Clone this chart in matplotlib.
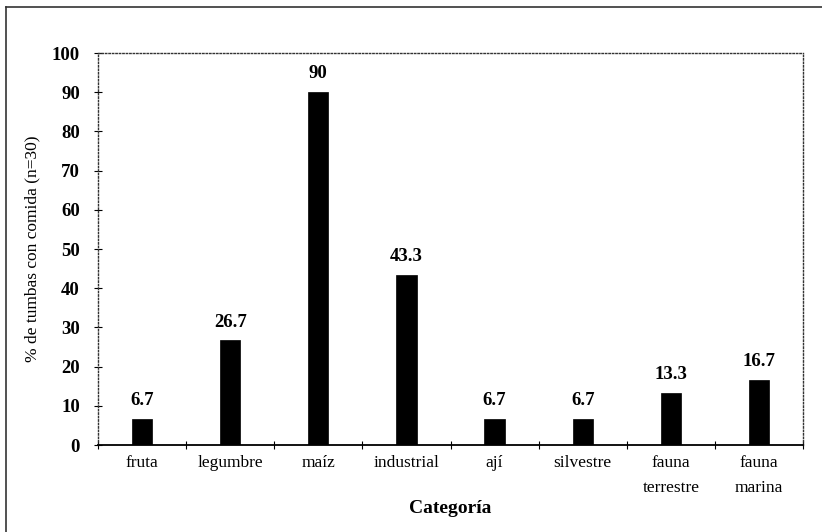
import numpy as np
import matplotlib
matplotlib.use('Agg')
import matplotlib.pyplot as plt
from matplotlib.lines import Line2D

#----------------------------------------------------------------
#                         data
#----------------------------------------------------------------
categorias = ['fruta', 'legumbre', 'maíz', 'industrial', 'ají',
              'silvestre', 'fauna\nterrestre', 'fauna\nmarina']
valores    = [6.7, 26.7, 90, 43.3, 6.7, 6.7, 13.3, 16.7]
etiquetas  = ['6.7', '26.7', '90', '43.3', '6.7', '6.7', '13.3', '16.7']
y_ticks    = [0, 10, 20, 30, 40, 50, 60, 70, 80, 90, 100]

plt.rcParams['font.family'] = ['Liberation Serif', 'DejaVu Serif']

#----------------------------------------------------------------
#                         plot
#----------------------------------------------------------------
fig = plt.figure(figsize=(8.22, 5.32), dpi=100)
ax = fig.add_axes([98/822, 1 - 445/532, (803 - 98)/822, (445 - 53)/532])

x = np.arange(len(categorias))
ax.bar(x, valores, width=0.23, color='black', edgecolor='black', lw=0.5)

for xi, v, lab in zip(x, valores, etiquetas):
    ax.text(xi, v + 2.5, lab, ha='center', va='bottom',
            fontsize=13.5, fontweight='bold')

ax.set_xlim(-0.5, len(categorias) - 0.5)
ax.set_ylim(0, 100)
ax.set_yticks(y_ticks)
ax.set_yticklabels([str(t) for t in y_ticks], fontsize=13.5, fontweight='bold')
ax.tick_params(axis='y', direction='inout', length=6, width=0.8, pad=10)

# x ticks at category boundaries, labels at centres
ax.set_xticks(np.arange(len(categorias) + 1) - 0.5)
ax.set_xticklabels([])
ax.set_xticks(x, minor=True)
ax.set_xticklabels(categorias, minor=True, fontsize=12.5, linespacing=1.75)
ax.tick_params(axis='x', which='major', direction='inout', length=6, width=0.8)
ax.tick_params(axis='x', which='minor', length=0, pad=7)

for side in ['top', 'right', 'left']:
    ax.spines[side].set_linestyle((0, (1, 1.5)))
    ax.spines[side].set_linewidth(1.0)
    ax.spines[side].set_color('#333333')
ax.spines['bottom'].set_linewidth(1.3)

ax.set_ylabel('% de tumbas con comida (n=30)', fontsize=12.5, labelpad=8)
ax.set_xlabel('Categoría', fontsize=14, fontweight='bold', labelpad=3)

# outer frame (top and left edges visible)
fig.add_artist(Line2D([6/822, 1], [1 - 7/532, 1 - 7/532], color='#333333',
                      lw=1.2, transform=fig.transFigure))
fig.add_artist(Line2D([6/822, 6/822], [0, 1 - 7/532], color='#333333',
                      lw=1.2, transform=fig.transFigure))

fig.savefig('out.png', dpi=100)
